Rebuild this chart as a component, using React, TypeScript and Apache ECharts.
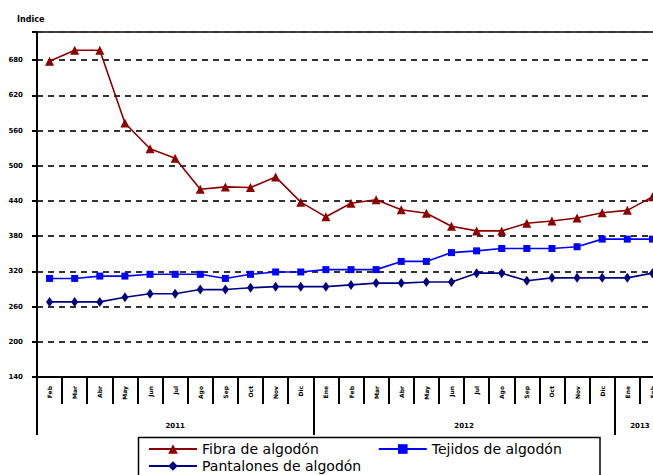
import React, { useEffect, useRef } from "react";
import * as echarts from "echarts";

const months = ["Feb", "Mar", "Abr", "May", "Jun", "Jul", "Ago", "Sep", "Oct", "Nov", "Dic", "Ene", "Feb", "Mar", "Abr", "May", "Jun", "Jul", "Ago", "Sep", "Oct", "Nov", "Dic", "Ene", "Feb"];
const years = ["2011", "2012", "2013"];
const monthsPerYear = [11, 12, 2];

const fibra = [678, 697, 697, 573, 529, 513, 460, 464, 463, 481, 438, 413, 436, 442, 425, 419, 397, 389, 389, 402, 406, 411, 420, 424, 447];
const tejidos = [308, 308, 312, 312, 315, 315, 315, 308, 315, 319, 319, 323, 323, 323, 337, 337, 352, 355, 359, 359, 359, 362, 375, 375, 375];
const pantalones = [268, 268, 268, 276, 282, 282, 289, 289, 292, 294, 294, 294, 297, 300, 300, 302, 302, 317, 317, 304, 309, 309, 309, 309, 317];

const yMin = 140;
const yStep = 60;

const FONT = "DejaVu Sans";

export default function App() {
  const ref = useRef<HTMLDivElement>(null);
  useEffect(() => {
    if (!ref.current) return;
    const chart = echarts.init(ref.current, null, { renderer: "svg" });

    const boundaries: number[] = [];
    const centers: number[] = [];
    let acc = 0;
    monthsPerYear.forEach((n) => {
      boundaries.push(acc);
      centers.push(acc + n / 2);
      acc += n;
    });

    chart.setOption({
      animation: false,
      backgroundColor: "#ffffff",
      textStyle: { fontFamily: FONT },
      title: {
        text: "Indice",
        left: 12,
        top: 10,
        textStyle: { fontSize: 8, fontWeight: "bold", color: "#000", fontFamily: FONT },
      },
      grid: {
        left: 37,
        right: 1,
        top: 32,
        bottom: 98,
        show: true,
        borderColor: "#444",
        borderWidth: 2,
      },
      legend: [
        {
          data: ["Fibra de algodón", "Tejidos de algodón"],
          left: 148,
          top: 442,
          padding: 0,
          itemGap: 59,
          itemWidth: 48,
          itemHeight: 12,
          textStyle: { fontSize: 14, color: "#000", fontFamily: FONT },
        },
        {
          data: ["Pantalones de algodón"],
          left: 148,
          top: 459,
          padding: 0,
          itemWidth: 48,
          itemHeight: 12,
          textStyle: { fontSize: 14, color: "#000", fontFamily: FONT },
        },
      ],
      graphic: [
        {
          type: "rect",
          shape: { x: 138.5, y: 437.5, width: 461.5, height: 60 },
          style: { fill: "none", stroke: "#000", lineWidth: 1.5 },
          silent: true,
        },
      ],
      xAxis: [
        {
          type: "category",
          data: months,
          boundaryGap: true,
          axisLine: { show: true, lineStyle: { color: "#000", width: 2 } },
          axisTick: { show: true, interval: 0, length: 27, lineStyle: { color: "#000", width: 2 } },
          axisLabel: {
            interval: 0,
            rotate: 90,
            margin: 9,
            fontSize: 6,
            fontWeight: "bold",
            color: "#000",
            fontFamily: FONT,
          },
          splitLine: { show: false },
        },
        {
          type: "value",
          min: 0,
          max: months.length,
          position: "bottom",
          axisLine: { show: false },
          splitLine: { show: false },
          axisTick: {
            show: true,
            customValues: boundaries,
            length: 58,
            lineStyle: { color: "#000", width: 2 },
          },
          axisLabel: {
            show: true,
            customValues: centers,
            margin: 45,
            fontSize: 7,
            fontWeight: "bold",
            color: "#000",
            fontFamily: FONT,
            formatter: (v: number) => {
              const i = centers.findIndex((c) => Math.abs(c - v) < 1e-6);
              return i >= 0 ? years[i] : "";
            },
          },
        },
      ],
      yAxis: {
        type: "value",
        min: yMin,
        max: 728,
        interval: yStep,
        axisLine: { show: true, lineStyle: { color: "#000", width: 2 } },
        axisTick: { show: true, length: 5, lineStyle: { color: "#000", width: 2 } },
        axisLabel: {
          margin: 14,
          fontSize: 7,
          fontWeight: "bold",
          color: "#000",
          fontFamily: FONT,
          formatter: (v: number) => ((v - yMin) % yStep === 0 ? String(v) : ""),
        },
        splitLine: { show: true, lineStyle: { color: "#333", width: 2, type: [6, 5] } },
      },
      series: [
        {
          name: "Fibra de algodón",
          type: "line",
          data: fibra,
          xAxisIndex: 0,
          symbol: "triangle",
          symbolSize: 9,
          lineStyle: { color: "#8B0000", width: 1.6 },
          itemStyle: { color: "#8B0000" },
        },
        {
          name: "Tejidos de algodón",
          type: "line",
          data: tejidos,
          xAxisIndex: 0,
          symbol: "rect",
          symbolSize: 7,
          lineStyle: { color: "#0000FF", width: 1.6 },
          itemStyle: { color: "#0000FF" },
        },
        {
          name: "Pantalones de algodón",
          type: "line",
          data: pantalones,
          xAxisIndex: 0,
          symbol: "diamond",
          symbolSize: [7, 10],
          lineStyle: { color: "#000080", width: 1.6 },
          itemStyle: { color: "#000080" },
        },
      ],
    });
    return () => chart.dispose();
  }, []);
  return (
    <div
      ref={ref}
      style={{ position: "fixed", left: 0, top: 0, width: 666, height: 475 }}
    />
  );
}
